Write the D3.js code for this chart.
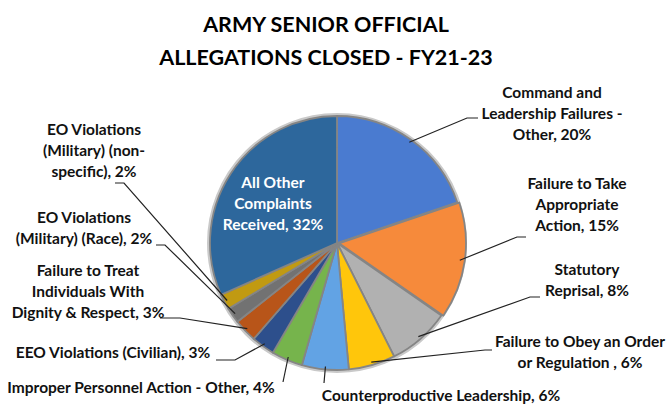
<!DOCTYPE html>
<html>
<head>
<meta charset="utf-8">
<script src="https://cdn.jsdelivr.net/npm/d3@7"></script>
<style>
  body { margin: 0; background: #fff; }
  text { font-family: Lato, "Open Sans", sans-serif; font-weight: bold; }
</style>
</head>
<body>
<div id="anchor-point"></div>
<script>
// chart data
const categories = [
  "Command and Leadership Failures - Other",
  "Failure to Take Appropriate Action",
  "Statutory Reprisal",
  "Failure to Obey an Order or Regulation",
  "Counterproductive Leadership",
  "Improper Personnel Action - Other",
  "EEO Violations (Civilian)",
  "Failure to Treat Individuals With Dignity & Respect",
  "EO Violations (Military) (Race)",
  "EO Violations (Military) (non-specific)",
  "All Other Complaints Received"
];
const values = [20, 15, 8, 6, 6, 4, 3, 3, 2, 2, 32];
const colors = ["#4a7bd0", "#f68a3b", "#b1b1b1", "#ffc60b", "#62a3e4", "#76b44c",
                "#2d4f8c", "#b85519", "#727272", "#c19a12", "#2d679c"];

// label text lines (as broken in the picture)
const labelLines = [
  ["Command and", "Leadership Failures -", "Other, 20%"],
  ["Failure to Take", "Appropriate", "Action, 15%"],
  ["Statutory", "Reprisal, 8%"],
  ["Failure to Obey an Order", "or Regulation , 6%"],
  ["Counterproductive Leadership, 6%"],
  ["Improper Personnel Action - Other, 4%"],
  ["EEO Violations (Civilian), 3%"],
  ["Failure to Treat", "Individuals With", "Dignity & Respect, 3%"],
  ["EO Violations", "(Military) (Race), 2%"],
  ["EO Violations", "(Military) (non-", "specific), 2%"],
  ["All Other", "Complaints", "Received, 32%"]
];

const width = 666, height = 406;
const cx = 337, cy = 243, radius = 127;
const lineH = 21;

// layout of each label: centre x, first baseline y, leader elbow / end
const labelPos = [
  { x: 552, y: 98,  elbow: [467, 118], end: [478, 118] },
  { x: 577, y: 189, elbow: [517, 237], end: [526, 237] },
  { x: 587, y: 275, elbow: [530, 297], end: [540, 297] },
  { x: 580, y: 347, elbow: [485, 350], end: [492, 350] },
  { x: 441, y: 401, elbow: [324, 383], end: [324, 383] },
  { x: 141, y: 393, elbow: [283, 382], end: [283, 382] },
  { x: 113, y: 358, elbow: [235, 360], end: [216, 360] },
  { x: 88,  y: 276, elbow: [180, 318], end: [160, 318] },
  { x: 84,  y: 223, elbow: [165, 245], end: [156, 245] },
  { x: 94,  y: 135, elbow: [124, 183], end: [115, 183] },
  { x: 273, y: 188, inside: true }
];

const svg = d3.select("#anchor-point")
  .append("svg")
  .attr("width", width)
  .attr("height", height);

// title
svg.append("text")
  .attr("x", 327).attr("text-anchor", "middle")
  .attr("font-size", 21.5)
  .selectAll("tspan")
  .data(["ARMY SENIOR OFFICIAL", "ALLEGATIONS CLOSED - FY21-23"])
  .join("tspan")
  .attr("x", 326)
  .attr("y", (d, i) => 32 + i * 33)
  .text(d => d);

const pie = d3.pie().sort(null).value(d => d);
const arcs = pie(values);
const arc = d3.arc().innerRadius(0).outerRadius(radius);

const g = svg.append("g").attr("transform", `translate(${cx},${cy})`);

// soft outer rim
g.append("circle").attr("r", radius + 1.5)
  .attr("fill", "none").attr("stroke", "#c9c9c9").attr("stroke-width", 3);

g.selectAll("path.slice")
  .data(arcs)
  .join("path")
  .attr("class", "slice")
  .attr("d", arc)
  .attr("fill", (d, i) => colors[i])
  .attr("stroke", "#858585")
  .attr("stroke-width", 1.8)
  .attr("stroke-linejoin", "round")
  .attr("transform", (d, i) => {
    if (i !== 1) return null;
    const a = (d.startAngle + d.endAngle) / 2;
    return `translate(${2 * Math.sin(a)},${-2 * Math.cos(a)})`;
  });

// leader lines
arcs.forEach((d, i) => {
  const p = labelPos[i];
  if (p.inside) return;
  const a = (d.startAngle + d.endAngle) / 2;
  const sx = cx + (radius - 3) * Math.sin(a);
  const sy = cy - (radius - 3) * Math.cos(a);
  svg.append("polyline")
    .attr("points", [[sx, sy], p.elbow, p.end].map(q => q.join(",")).join(" "))
    .attr("fill", "none")
    .attr("stroke", "#222")
    .attr("stroke-width", 1.2);
});

// labels
labelLines.forEach((lines, i) => {
  const p = labelPos[i];
  const t = svg.append("text")
    .attr("text-anchor", "middle")
    .attr("font-size", 15.5)
    .attr("fill", p.inside ? "#fff" : "#111");
  lines.forEach((s, k) => {
    t.append("tspan").attr("x", p.x).attr("y", p.y + k * lineH).text(s);
  });
});
</script>
</body>
</html>
